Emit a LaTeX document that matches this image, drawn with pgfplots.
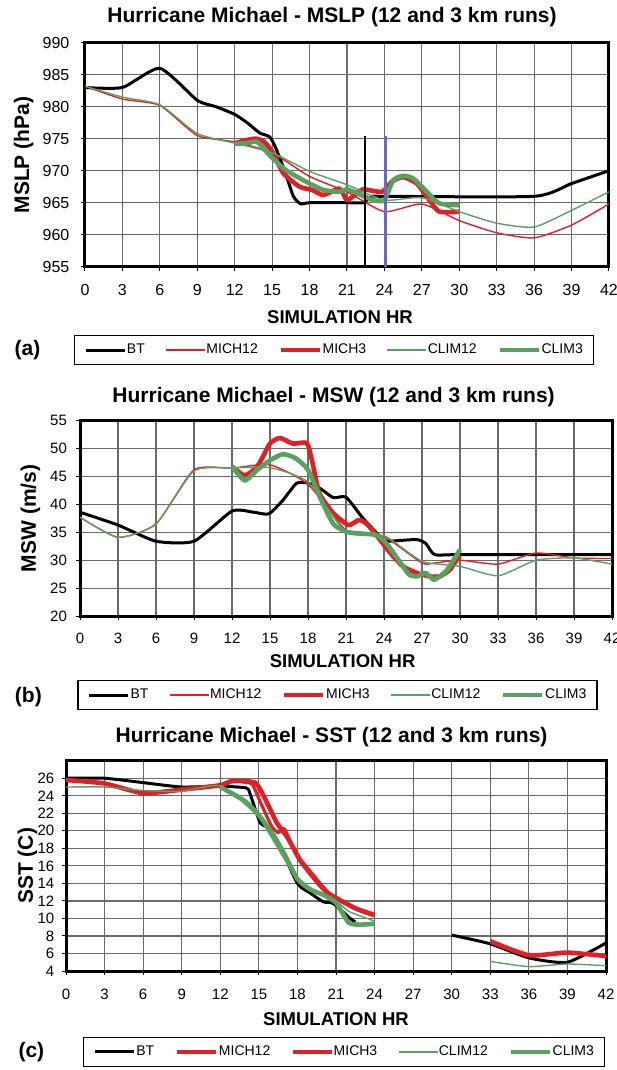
\documentclass[border=0pt]{standalone}
\usepackage{fontspec}
\setmainfont{Liberation Sans}
\usepackage{pgfplots}
\pgfplotsset{compat=1.18}

\definecolor{mred}{RGB}{224,32,36}
\definecolor{mgreen}{RGB}{88,162,96}
\definecolor{mblue}{RGB}{104,104,204}
\newcommand\fs[1]{\fontsize{#1}{#1}\selectfont}

\pgfplotsset{
  hm/.style={
    scale only axis, anchor=south west,
    xmin=0, xmax=42, xtick={0,3,...,42},
    grid=major, grid style={line width=0.6pt, black!58},
    axis line style={line width=1.5pt},
    tick align=outside, tick pos=left, major tick length=2pt,
    tick style={line width=0.5pt, black},
    /pgf/number format/assume math mode=true,
    legend columns=5,
    legend image code/.code={\draw[##1] (0pt,0pt) -- (19.5pt,0pt);},
    legend style={draw=black, line width=0.75pt, fill=white, font=\fs{7},
      inner xsep=5pt, inner ysep=2.5pt,
      nodes={inner xsep=0.3pt, inner ysep=1.5pt},
      /tikz/every even column/.append style={column sep=10pt},
      anchor=center},
    every axis plot/.append style={line join=round, smooth, tension=0.35},
  },
  bt/.style={black, line width=1.5pt},
  thin/.style={line width=0.7pt},
  fat/.style={line width=2.3pt},
  mid/.style={line width=1.6pt},
}

\begin{document}
\begin{tikzpicture}
\useasboundingbox (0,0) rectangle (308pt,-535pt);

% ---------- (a) MSLP ----------
\begin{axis}[hm, at={(42.5pt,-133.35pt)}, width=262pt, height=112pt,
  ymin=955, ymax=990, ytick={955,960,...,990},
  ticklabel style={font=\fs{8}},
  xticklabel style={yshift=-3.5pt}, yticklabel style={xshift=-2.3pt},
  legend style={at={(0.475,-0.372)}}]
\addplot[bt] coordinates {(0,983) (3,983) (6,986) (9,981) (10.5,980) (12,978.8)
  (13,977.5) (14,975.9) (14.8,975.3) (15.3,973.5) (16,970) (16.7,966) (17.3,964.8)
  (18,965) (21,965) (22.3,965) (23,966) (24,966) (36,966) (39,968) (42,970)};
\addlegendentry{BT}
\addplot[mred, thin] coordinates {(0,983.2) (3,981.2) (6,980.2) (9,975.5) (12,974.5)
  (15,972.8) (18,969.1) (21,966.7) (24,963.6) (27,964.8) (30,962.2) (33,960.3)
  (36,959.5) (39,961.5) (42,964.8)};
\addlegendentry{MICH12}
\addplot[mred, fat] coordinates {(12,974.3) (13,974.8) (13.7,975) (14.3,974.6)
  (15,973) (15.9,969.6) (17.2,967.5) (18.2,967) (19.1,966.2) (20.4,967.2) (21,965.4)
  (21.8,966.5) (22.3,967.1) (23.8,966.7) (24.6,968.3) (25.5,969) (26.6,968)
  (27.6,965.4) (28.4,963.6) (30,963.6)};
\addlegendentry{MICH3}
\addplot[mgreen, thin] coordinates {(0,983.2) (3,981.5) (6,980.3) (9,975.8)
  (12,974.3) (15,972.8) (18,969.9) (21,967.8) (24,965.4) (27,965.8) (30,963.6)
  (33,961.8) (36,961.2) (39,963.8) (42,966.7)};
\addlegendentry{CLIM12}
\addplot[mgreen, fat] coordinates {(12,974.2) (13,974.3) (13.8,974.5) (14.9,972.2)
  (16.1,970.1) (17.7,968.3) (19.1,967) (20.4,966.7) (21,967.1) (21.8,966.5)
  (23.1,965.4) (24,965.4) (24.7,968.5) (25.5,969.2) (26.3,968.8) (27.4,966.7)
  (28.4,964.9) (30,964.6)};
\addlegendentry{CLIM3}
\addplot[black, line width=0.8pt, forget plot] coordinates {(22.45,955) (22.45,975.5)};
\addplot[mblue, line width=1.3pt, forget plot] coordinates {(24.1,955) (24.1,975.5)};
\end{axis}

% ---------- (b) MSW ----------
\begin{axis}[hm, at={(40pt,-308pt)}, width=266pt, height=97.65pt,
  ymin=20, ymax=55, ytick={20,25,...,55},
  ticklabel style={font=\fs{7.5}},
  xticklabel style={yshift=-3pt}, yticklabel style={xshift=-1pt},
  legend style={at={(0.484,-0.4045)}}]
\addplot[bt] coordinates {(0,38.6) (3,36.3) (6,33.4) (9,33.4) (12,38.8) (13.7,38.6)
  (14.9,38.3) (16,40.7) (17.1,43.8) (18,43.8) (19,42.8) (20,41.2) (21,41.3)
  (22.35,37.5) (24,33.6) (25,33.5) (26.6,33.7) (27.3,33) (28,31) (30,31) (42,31)};
\addlegendentry{BT}
\addplot[mred, thin] coordinates {(0,37.7) (3,34.1) (6,36.5) (9,46.2) (12,46.5)
  (15,47.1) (18,43.6) (21,35.4) (24,34.2) (27,29.5) (28,29.5) (30,30) (33,29.3)
  (36,31.3) (39,30.4) (42,30.3)};
\addlegendentry{MICH12}
\addplot[mred, fat] coordinates {(12,46.8) (13,45.2) (14,46.8) (15,50.9) (15.8,51.9)
  (16.8,50.9) (17.9,51) (18.3,48) (18.9,42) (20,38.4) (21.2,36.3) (22,37.2)
  (22.6,36.6) (23.5,34.2) (24.5,31.3) (25.5,28.9) (26.6,27.7) (27.6,27.1)
  (28.4,27.1) (29.2,28.3) (30,31)};
\addlegendentry{MICH3}
\addplot[mgreen, thin] coordinates {(0,37.7) (3,34.1) (6,36.5) (9,46) (12,46.5)
  (15,46.6) (18,44) (21,35) (24,34.4) (27,29.8) (30,28.9) (33,27.2) (36,30)
  (39,30.4) (42,29.3)};
\addlegendentry{CLIM12}
\addplot[mgreen, fat] coordinates {(12,46.8) (13,44.3) (14,46.2) (15,47.9) (16,49)
  (17,48.3) (18,46.2) (19,41) (20,36.5) (21,35.1) (22,34.8) (23.4,34.5) (24.2,33)
  (25.5,28.9) (26,27.4) (26.6,27.1) (27.3,27.7) (27.9,26.5) (28.4,27.1) (29,28.3)
  (30,31.9)};
\addlegendentry{CLIM3}
\end{axis}

% ---------- (c) SST ----------
\begin{axis}[hm, at={(33pt,-485.5pt)}, width=270pt, height=105.15pt,
  ymin=4, ymax=28, ytick={4,6,...,26},
  ticklabel style={font=\fs{7.5}},
  xticklabel style={yshift=-3.3pt}, yticklabel style={xshift=-0.3pt},
  legend style={at={(0.515,-0.385)}}]
\addplot[bt] coordinates {(0,26) (3,26) (6,25.5) (9,25) (12,25.1) (14,24.9)
  (14.3,24.3) (15.1,20.9) (15.6,20.5) (16.4,19) (18,14) (19,12.9) (20,11.9)
  (20.8,11.7) (22.1,10) (22.5,9.6)};
\addlegendentry{BT}
\addplot[mred, fat] coordinates {(0,25.8) (3,25.4) (6,24.3) (9,24.7) (12,25.2)
  (13,25.7) (14.7,25.5) (15.4,23.9) (16.4,20.9) (17.2,19.3) (18.2,16.7)
  (19.25,14.8) (20.3,13) (21.3,12.1) (22.6,11.1) (24,10.4)};
\addlegendentry{MICH12}
\addplot[mred, mid] coordinates {(12,25.2) (13,25.8) (14,25.5) (14.5,25.3) (15.2,23)
  (16,20.5) (16.5,19.8) (17,20.2) (18,17) (19,15) (20,13.3) (21,12.3) (22,11.5)
  (23,10.8) (24,10.3)};
\addlegendentry{MICH3}
\addplot[mgreen, thin] coordinates {(0,25) (3,25) (6,24.6) (9,24.5) (12,25.1)
  (15,21.5) (18,14.5) (21,12) (22,10.8) (24,9.7)};
\addlegendentry{CLIM12}
\addplot[mgreen, fat] coordinates {(12,25) (13,24.2) (14,23.3) (15,21.8) (16,19.8)
  (17,17.3) (18,14.5) (19,13.3) (20,12.7) (21,11.8) (22,9.5) (23,9.3) (24,9.4)};
\addlegendentry{CLIM3}
\addplot[bt, forget plot] coordinates {(30,8.1) (33,7.1) (36,5.5) (39,5) (42,7.2)};
\addplot[mred, fat, forget plot] coordinates {(33,7.4) (36,5.8) (39,6.1) (42,5.7)};
\addplot[mgreen, thin, forget plot] coordinates {(33,5.1) (36,4.5) (39,4.8) (42,4.6)};
\end{axis}

% ---------- titles and labels ----------
\node[font=\fs{10.5}\bfseries] at (166pt,-8.35pt) {Hurricane Michael - MSLP (12 and 3 km runs)};
\node[font=\fs{10.5}\bfseries] at (166.8pt,-198.5pt) {Hurricane Michael - MSW (12 and 3 km runs)};
\node[font=\fs{10.5}\bfseries] at (165.8pt,-368.3pt) {Hurricane Michael - SST (12 and 3 km runs)};
\node[font=\fs{10.5}\bfseries, rotate=90] at (11.8pt,-77.5pt) {MSLP (hPa)};
\node[font=\fs{10.5}\bfseries, rotate=90] at (15.2pt,-259.2pt) {MSW (m/s)};
\node[font=\fs{10.5}\bfseries, rotate=90] at (13.75pt,-432.9pt) {SST (C)};
\node[font=\fs{9.25}\bfseries] at (170pt,-158.5pt) {SIMULATION HR};
\node[font=\fs{9.25}\bfseries] at (171.3pt,-330.8pt) {SIMULATION HR};
\node[font=\fs{9.25}\bfseries] at (168pt,-509.7pt) {SIMULATION HR};
\node[font=\fs{10.5}\bfseries] at (13.75pt,-175pt) {(a)};
\node[font=\fs{10.5}\bfseries] at (14.2pt,-348.3pt) {(b)};
\node[font=\fs{10.5}\bfseries] at (15.7pt,-525.8pt) {(c)};
\end{tikzpicture}
\end{document}
